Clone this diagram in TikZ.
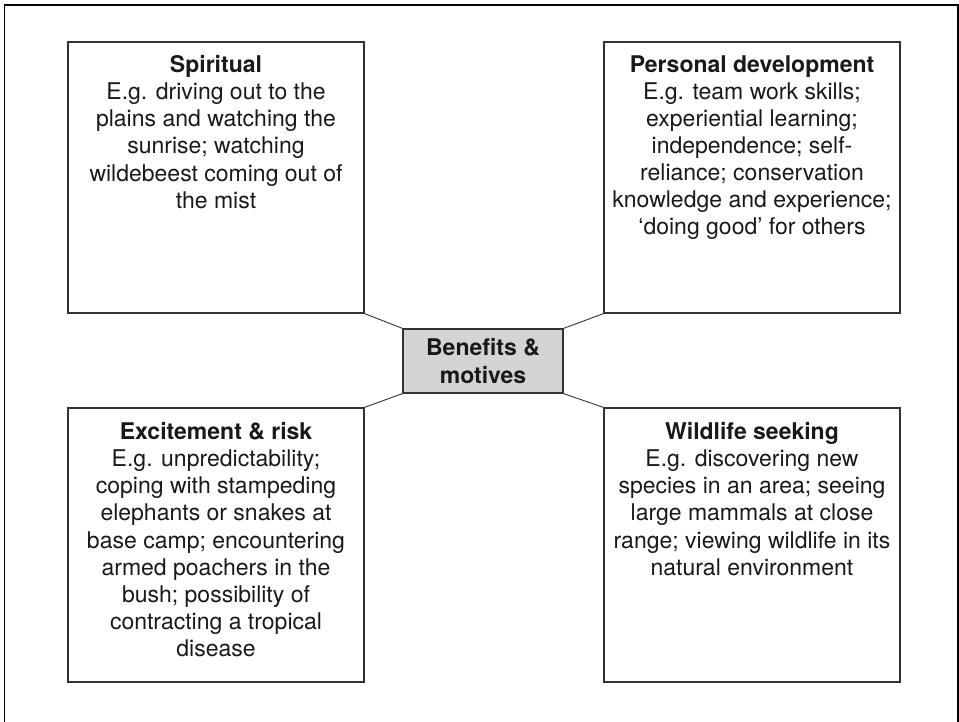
\documentclass[tikz,border=0pt]{standalone}
\usepackage{fontspec}
\setmainfont{TeX Gyre Heros}
\usetikzlibrary{positioning,calc}

\tikzset{
  panel/.style={draw=black!80, line width=1.3pt, minimum width=296pt, inner sep=0pt},
  paneltext/.style={anchor=north, align=center, inner sep=0pt, text=black!90,
    font=\fontsize{23}{27.1}\selectfont},
  hub/.style={draw=black!80, line width=1.3pt, fill=black!17, minimum width=160pt,
    minimum height=64pt, align=center, inner sep=0pt, text=black!90,
    font=\fontsize{23}{28}\selectfont\bfseries},
  link/.style={draw=black!80, line width=0.9pt}
}

\begin{document}
\begin{tikzpicture}[x=1pt,y=1pt]
\useasboundingbox (0,0) rectangle (959,722);
% open frame round the figure
\draw[line width=1.4pt] (4.5,0)--(4.5,717)--(958,717)--(958,0);

% the four panels
\node[panel, minimum height=271pt] (spirit) at (216,544.5) {};
\node[panel, minimum height=271pt] (growth) at (752,544.5) {};
\node[panel, minimum height=274pt] (thrill) at (216,177) {};
\node[panel, minimum height=274pt] (fauna) at (752,177) {};

\node[paneltext, below=14pt of spirit.north] (spirittext) {\textbf{Spiritual}\\
  E.g. driving out to the\\ plains and watching the\\ sunrise; watching\\
  wildebeest coming out of\\ the mist};
\node[paneltext, below=14pt of growth.north] (growthtext) {\textbf{Personal development}\\
  E.g. team work skills;\\ experiential learning;\\ independence; self-\\
  reliance; conservation\\ knowledge and experience;\\ ‘doing good’ for others};
\node[paneltext, below=15pt of thrill.north] (thrilltext) {\textbf{Excitement \& risk}\\
  E.g. unpredictability;\\ coping with stampeding\\ elephants or snakes at\\
  base camp; encountering\\ armed poachers in the\\ bush; possibility of\\
  contracting a tropical\\ disease};
\node[paneltext, below=15pt of fauna.north] (faunatext) {\textbf{Wildlife seeking}\\
  E.g. discovering new\\ species in an area; seeing\\ large mammals at close\\
  range; viewing wildlife in its\\ natural environment};

% centre
\node[hub] (core) at (483,361) {Benefits \&\\ motives};

\draw[link] (spirit.south east) -- (core.north west);
\draw[link] (growth.south west) -- (core.north east);
\draw[link] (thrill.north east) -- (core.south west);
\draw[link] (fauna.north west) -- (core.south east);
\end{tikzpicture}
\end{document}
